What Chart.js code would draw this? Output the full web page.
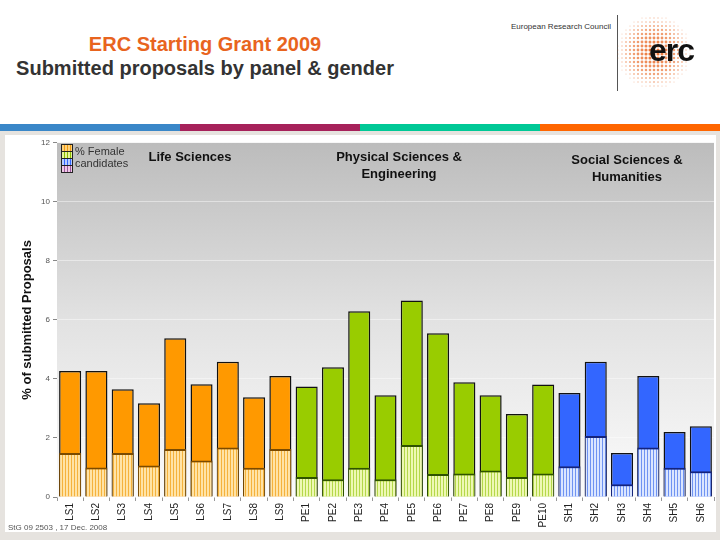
<!DOCTYPE html>
<html>
<head>
<meta charset="utf-8">
<script src="https://cdn.jsdelivr.net/npm/chart.js@4.4.0/dist/chart.umd.min.js"></script>
<style>
  html, body { margin: 0; padding: 0; }
  body { width: 720px; height: 540px; position: relative; overflow: hidden; background: #e6e3df; font-family: "Liberation Sans", Arial, sans-serif; }
  #head { position: absolute; left: 0; top: 0; width: 720px; height: 124px; background: #fff; }
  .t1 { position: absolute; left: 0; width: 410px; text-align: center; top: 33px; font-size: 20px; font-weight: bold; color: #e8641e; }
  .t2 { position: absolute; left: 0; width: 410px; text-align: center; top: 57px; font-size: 20px; font-weight: bold; color: #333; }
  .erctxt { position: absolute; left: 480px; width: 131px; text-align: right; top: 22px; font-size: 8px; color: #333; }
  .vline { position: absolute; left: 617px; top: 15px; width: 1px; height: 76px; background: #555; }
  #logo { position: absolute; left: 616px; top: 12px; }
  .erc { position: absolute; left: 649px; top: 32px; font-size: 32px; font-weight: bold; color: #111; letter-spacing: -1px; }
  .band { position: absolute; top: 124px; height: 7px; }
  #box { position: absolute; left: 5px; top: 135px; width: 711px; height: 397px; background: #fff; }
  #wrap { position: absolute; left: 0; top: 135px; width: 718px; height: 405px; }
  .lab { position: absolute; font-size: 13px; font-weight: bold; color: #111; text-align: center; line-height: 17px; }
  .leg { position: absolute; left: 75px; top: 145px; font-size: 11px; color: #333; line-height: 12px; }
  .sw { position: absolute; left: 61px; width: 10px; height: 6px; border: 1px solid #222; }
  .foot { position: absolute; left: 8px; top: 523px; font-size: 8px; color: #555; }
</style>
</head>
<body>
<div id="head">
  <div class="t1">ERC Starting Grant 2009</div>
  <div class="t2">Submitted proposals by panel &amp; gender</div>
  <div class="erctxt">European Research Council</div>
  <div class="vline"></div>
  <canvas id="logo" width="80" height="80"></canvas>
  <div class="erc">erc</div>
</div>
<div class="band" style="left:0;width:180px;background:#3a87c8"></div>
<div class="band" style="left:180px;width:180px;background:#a6215a"></div>
<div class="band" style="left:360px;width:180px;background:#00c896"></div>
<div class="band" style="left:540px;width:180px;background:#ff6600"></div>
<div id="box"></div>
<div id="wrap"><canvas id="chart"></canvas></div>
<div class="sw" style="top:144px;background:repeating-linear-gradient(90deg,#ffd27a 0 2px,#f09a10 2px 3px)"></div>
<div class="sw" style="top:151px;background:repeating-linear-gradient(90deg,#e6f59a 0 2px,#8cbc00 2px 3px)"></div>
<div class="sw" style="top:158px;background:repeating-linear-gradient(90deg,#b8ccff 0 2px,#3366ff 2px 3px)"></div>
<div class="sw" style="top:165px;background:repeating-linear-gradient(90deg,#f0c8e8 0 2px,#9a5a9a 2px 3px)"></div>
<div class="leg">% Female<br>candidates</div>
<div class="lab" style="left:120px;width:140px;top:148px">Life Sciences</div>
<div class="lab" style="left:314px;width:170px;top:148px">Physical Sciences &amp;<br>Engineering</div>
<div class="lab" style="left:547px;width:160px;top:151px">Social Sciences &amp;<br>Humanities</div>
<div class="foot">StG 09 2503 , 17 Dec. 2008</div>

<script>
const panels = ['LS1', 'LS2', 'LS3', 'LS4', 'LS5', 'LS6', 'LS7', 'LS8', 'LS9',
    'PE1', 'PE2', 'PE3', 'PE4', 'PE5', 'PE6', 'PE7', 'PE8', 'PE9', 'PE10',
    'SH1', 'SH2', 'SH3', 'SH4', 'SH5', 'SH6'];
const totalPct = [4.27, 4.27, 3.65, 3.18, 5.38, 3.82, 4.58, 3.38, 4.1,
    3.74, 4.4, 6.29, 3.45, 6.66, 5.55, 3.89, 3.45, 2.81, 3.81,
    3.52, 4.58, 1.49, 4.1, 2.2, 2.4];
const femalePct = [1.49, 1.0, 1.49, 1.07, 1.63, 1.24, 1.68, 0.99, 1.63,
    0.68, 0.6, 0.99, 0.6, 1.76, 0.78, 0.8, 0.9, 0.68, 0.8,
    1.04, 2.07, 0.43, 1.68, 0.99, 0.87];
const yTicks = [0, 2, 4, 6, 8, 10, 12];

const DOM = {
    LS: { solid: '#ff9900', light: '#ffe3a6', stripe: '#f5b23c', edge: '#7a4a00' },
    PE: { solid: '#99cc00', light: '#eef8b4', stripe: '#b4d84a', edge: '#2e5200' },
    SH: { solid: '#3366ff', light: '#dbe6ff', stripe: '#6f93f2', edge: '#14237a' }
};

function stripes(c) {
    const p = document.createElement('canvas');
    p.width = 3; p.height = 4;
    const g = p.getContext('2d');
    g.fillStyle = c.light; g.fillRect(0, 0, 3, 4);
    g.fillStyle = c.stripe; g.fillRect(2, 0, 1, 4);
    return g.createPattern(p, 'repeat');
}
const pats = {};
Object.keys(DOM).forEach(k => pats[k] = stripes(DOM[k]));
const dom = l => l.slice(0, 2);

// logo dots
(function () {
    const g = document.getElementById('logo').getContext('2d');
    const cx = 38, cy = 40, R = 37;
    for (let y = 2; y < 80; y += 4) {
        for (let x = 2; x < 80; x += 4) {
            const d = Math.hypot(x - cx, y - cy) / R;
            if (d > 1) continue;
            g.fillStyle = 'rgba(232,100,30,' + (0.35 + 0.6 * (1 - d)) + ')';
            g.beginPath(); g.arc(x, y, 0.5 + 1.1 * (1 - d * d), 0, Math.PI * 2); g.fill();
        }
    }
})();

const bgPlugin = {
    id: 'bg',
    beforeDraw(chart) {
        const { ctx, chartArea: a } = chart;
        const gr = ctx.createLinearGradient(0, a.top, 0, a.bottom);
        gr.addColorStop(0, '#bcbcbc');
        gr.addColorStop(0.5, '#e2e2e2');
        gr.addColorStop(1, '#fbfbfb');
        ctx.save();
        ctx.fillStyle = gr;
        ctx.fillRect(a.left, a.top, a.right - a.left, a.bottom - a.top);
        ctx.restore();
    }
};

new Chart(document.getElementById('chart'), {
    type: 'bar',
    data: {
        labels: panels,
        datasets: [
            {
                label: '% Female candidates',
                data: femalePct,
                order: 0,
                backgroundColor: panels.map(l => pats[dom(l)]),
                borderColor: panels.map(l => DOM[dom(l)].edge),
                borderWidth: { top: 2, left: 1, right: 1, bottom: 0 },
                categoryPercentage: 1, barPercentage: 0.84
            },
            {
                label: '% of submitted proposals',
                data: totalPct,
                order: 1,
                backgroundColor: panels.map(l => DOM[dom(l)].solid),
                borderColor: '#111',
                borderWidth: 1.5,
                categoryPercentage: 1, barPercentage: 0.84
            }
        ]
    },
    options: {
        responsive: true,
        maintainAspectRatio: false,
        animation: false,
        layout: { padding: { top: 7, right: 4, left: 0, bottom: 0 } },
        plugins: { legend: { display: false }, tooltip: { enabled: false } },
        scales: {
            x: {
                stacked: true,
                afterFit: s => { s.height = 43; },
                border: { display: false },
                grid: { offset: true, drawOnChartArea: false, tickLength: 4, tickColor: '#999' },
                ticks: { minRotation: 90, maxRotation: 90, autoSkip: false, padding: 2, color: '#222',
                    font: { family: 'Liberation Sans', size: 10 } }
            },
            y: {
                stacked: false,
                min: 0, max: 12,
                afterFit: s => { s.width = 57; },
                afterBuildTicks: s => { s.ticks = yTicks.map(v => ({ value: v })); },
                border: { display: false },
                grid: { color: 'rgba(255,255,255,0.45)', tickColor: '#888', tickLength: 4 },
                ticks: { padding: 3, color: '#555', font: { family: 'Liberation Sans', size: 8 } },
                title: { display: true, text: '% of submitted Proposals', color: '#111',
                    padding: { top: 20, bottom: 0 },
                    font: { family: 'Liberation Sans', size: 13, weight: 'bold' } }
            }
        }
    },
    plugins: [bgPlugin]
});
</script>
</body>
</html>
